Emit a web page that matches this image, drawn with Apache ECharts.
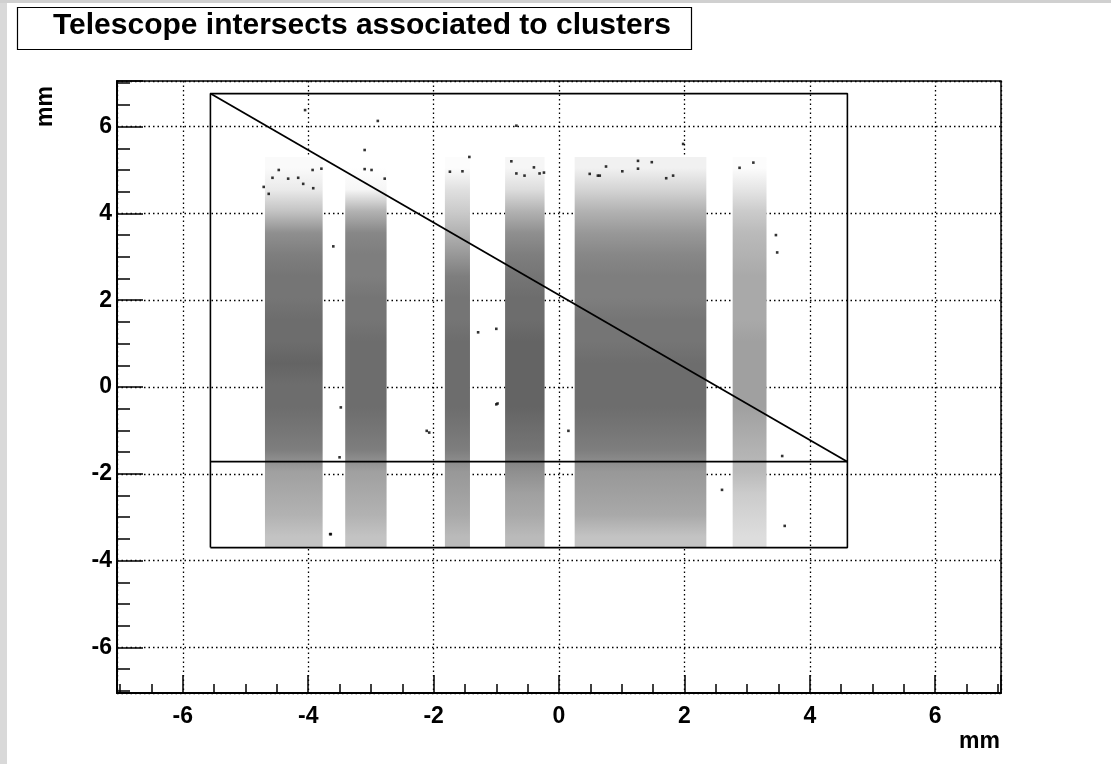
<!DOCTYPE html>
<html>
<head>
<meta charset="utf-8">
<title>Telescope intersects associated to clusters</title>
<script src="https://cdn.jsdelivr.net/npm/echarts@6/dist/echarts.min.js"></script>
<style>
  html, body { margin: 0; padding: 0; background: #fff; }
  #chart { width: 1111px; height: 764px; }
</style>
</head>
<body>
<div id="chart"></div>
<script>
// Hit density of telescope track intersects, one entry per sensor strip column.
const bandXMin = [-4.69, -3.41, -1.82, -0.86, 0.25, 2.77];
const bandXMax = [-3.77, -2.75, -1.42, -0.23, 2.35, 3.31];
const bandYMin = -3.7;
const bandYMax = 5.3;
// Relative hit density (0..1) in 0.5 mm slices, bottom to top
const sliceCenters = [-3.45, -2.95, -2.45, -1.95, -1.45, -0.95, -0.45, 0.05, 0.55,
                      1.05, 1.55, 2.05, 2.55, 3.05, 3.55, 4.05, 4.55, 5.05];
const band1Density = [0.35, 0.45, 0.50, 0.55, 0.75, 0.80, 0.85, 0.85, 0.90, 0.85, 0.85, 0.80, 0.80, 0.75, 0.65, 0.35, 0.12, 0.03];
const band2Density = [0.35, 0.45, 0.50, 0.55, 0.75, 0.80, 0.85, 0.85, 0.85, 0.85, 0.80, 0.80, 0.75, 0.75, 0.70, 0.45, 0.05, 0.00];
const band3Density = [0.40, 0.50, 0.55, 0.60, 0.75, 0.80, 0.85, 0.85, 0.85, 0.85, 0.80, 0.80, 0.75, 0.60, 0.45, 0.30, 0.18, 0.02];
const band4Density = [0.40, 0.50, 0.55, 0.65, 0.80, 0.85, 0.90, 0.90, 0.90, 0.90, 0.85, 0.85, 0.80, 0.75, 0.65, 0.45, 0.20, 0.05];
const band5Density = [0.35, 0.50, 0.55, 0.60, 0.75, 0.80, 0.85, 0.85, 0.85, 0.80, 0.80, 0.75, 0.75, 0.70, 0.60, 0.45, 0.25, 0.08];
const band6Density = [0.20, 0.25, 0.30, 0.40, 0.45, 0.50, 0.55, 0.55, 0.55, 0.55, 0.50, 0.50, 0.50, 0.45, 0.40, 0.30, 0.15, 0.02];
const bandDensities = [band1Density, band2Density, band3Density, band4Density, band5Density, band6Density];

// Isolated intersects away from the dense columns (mm)
const strayPoints = [
  [-4.05, 6.38], [-2.89, 6.13], [-3.10, 5.46], [-4.47, 5.00], [-4.57, 4.82], [-4.32, 4.80],
  [-4.16, 4.82], [-3.93, 5.00], [-3.79, 5.03], [-4.71, 4.61], [-3.10, 5.02], [-2.99, 5.00],
  [-2.78, 4.80], [-4.08, 4.68], [-3.92, 4.58], [-4.63, 4.45],
  [-1.43, 5.30], [-1.74, 4.96], [-1.54, 4.97], [-0.76, 5.20], [-0.68, 4.92], [-0.40, 5.06],
  [-0.31, 4.92], [-0.24, 4.94], [-0.55, 4.87], [-0.68, 6.02], [0.49, 4.91], [0.62, 4.87],
  [1.26, 5.21], [1.48, 5.18], [1.26, 5.03], [0.75, 5.08], [1.01, 4.97], [0.65, 4.87],
  [1.98, 5.60], [2.88, 5.05], [3.10, 5.17], [3.46, 3.50], [3.48, 3.10], [1.71, 4.81], [1.82, 4.87],
  [3.56, -1.59], [3.60, -3.20], [2.60, -2.37], [0.15, -1.01],
  [-2.11, -1.01], [-2.07, -1.05], [-1.00, -0.40], [-3.64, -3.39], [-3.50, -1.62],
  [-1.00, 1.34], [-1.29, 1.26], [-0.98, -0.38], [-3.60, 3.24], [-3.48, -0.47], [-3.65, -3.39]
];

// Fiducial region and cut lines (mm)
const fiducialBox = [[-5.56, -3.70], [-5.56, 6.76], [4.60, 6.76], [4.60, -3.70], [-5.56, -3.70]];
const diagonalCut = [[-5.56, 6.76], [4.60, -1.72]];
const horizontalCut = [[-5.56, -1.72], [4.60, -1.72]];

const axisRange = 7.05;
const axisTicks = [-6, -4, -2, 0, 2, 4, 6];

const FONT = 'Liberation Sans, Arial, Helvetica, sans-serif';

function greyFor(d) {
  const g = Math.round(255 - 172 * d);
  return 'rgb(' + g + ',' + g + ',' + g + ')';
}

function renderBand(params, api) {
  const idx = api.value(0);
  const topLeft = api.coord([api.value(1), api.value(4)]);
  const botRight = api.coord([api.value(2), api.value(3)]);
  const profile = bandDensities[idx];
  const span = bandYMax - bandYMin;
  const stops = [{ offset: 0, color: greyFor(profile[profile.length - 1]) }];
  for (let i = profile.length - 1; i >= 0; i--) {
    stops.push({ offset: (bandYMax - sliceCenters[i]) / span, color: greyFor(profile[i]) });
  }
  stops.push({ offset: 1, color: greyFor(profile[0]) });
  return {
    type: 'rect',
    shape: {
      x: topLeft[0], y: topLeft[1],
      width: botRight[0] - topLeft[0], height: botRight[1] - topLeft[1]
    },
    style: { fill: new echarts.graphic.LinearGradient(0, 0, 0, 1, stops) }
  };
}

const bandData = bandXMin.map((x0, i) => [i, x0, bandXMax[i], bandYMin, bandYMax]);

function makeAxis(tickLen, isX) {
  return {
    type: 'value',
    min: -axisRange,
    max: axisRange,
    splitNumber: 7,
    minInterval: 2,
    maxInterval: 2,
    axisLine: { show: true, onZero: false, lineStyle: { color: '#000', width: 2 } },
    axisTick: { show: true, inside: true, length: tickLen, lineStyle: { color: '#000', width: 1.5 } },
    minorTick: { show: true, splitNumber: 4, length: tickLen / 2, lineStyle: { color: '#000', width: 1.5 } },
    splitLine: { show: true, lineStyle: { color: '#000', width: 1.3, type: [1.5, 3] } },
    axisLabel: {
      show: true,
      showMinLabel: false,
      showMaxLabel: false,
      color: '#000',
      fontSize: 23,
      fontWeight: 'bold',
      fontFamily: FONT,
      margin: isX ? 12 : 5,
      formatter: v => (axisTicks.indexOf(v) >= 0 ? String(v) : '')
    }
  };
}

const chart = echarts.init(document.getElementById('chart'), null, { renderer: 'canvas' });
chart.setOption({
  backgroundColor: '#ffffff',
  animation: false,
  title: {
    text: 'Telescope intersects associated to clusters',
    left: 53,
    top: 11,
    padding: 0,
    textStyle: { fontSize: 30, fontWeight: 'bold', color: '#000', fontFamily: FONT }
  },
  grid: {
    left: 117, right: 110, top: 81, bottom: 71,
    containLabel: false,
    show: true,
    borderColor: '#000',
    borderWidth: 1.5,
    backgroundColor: 'transparent'
  },
  xAxis: makeAxis(18, true),
  yAxis: makeAxis(26, false),
  graphic: [
    { type: 'rect', z: 100, shape: { x: 0, y: 0, width: 7, height: 764 }, style: { fill: '#d9d9d9' } },
    { type: 'rect', z: 100, shape: { x: 0, y: 0, width: 1111, height: 3 }, style: { fill: '#d0d0d0' } },
    { type: 'rect', z: -1, shape: { x: 17.5, y: 7.5, width: 674, height: 42 },
      style: { fill: '#fff', stroke: '#000', lineWidth: 1.2 } },
    { type: 'text', z: 100, x: 1000, y: 742,
      style: { text: 'mm', fill: '#000', font: 'bold 23px ' + FONT, textAlign: 'right', textVerticalAlign: 'middle' } },
    { type: 'text', z: 100, x: 46, y: 86, rotation: Math.PI / 2,
      style: { text: 'mm', fill: '#000', font: 'bold 23px ' + FONT, textAlign: 'right', textVerticalAlign: 'middle' } }
  ],
  series: [
    {
      type: 'custom',
      name: 'strip columns',
      renderItem: renderBand,
      encode: { x: [1, 2], y: [3, 4] },
      data: bandData,
      silent: true,
      clip: true,
      z: 1
    },
    {
      type: 'scatter',
      name: 'stray intersects',
      data: strayPoints,
      symbol: 'rect',
      symbolSize: 2.6,
      itemStyle: { color: '#000' },
      silent: true,
      z: 2
    },
    {
      type: 'line', data: fiducialBox, showSymbol: false, silent: true, z: 3,
      lineStyle: { color: '#000', width: 1.6 }
    },
    {
      type: 'line', data: diagonalCut, showSymbol: false, silent: true, z: 3,
      lineStyle: { color: '#000', width: 1.8 }
    },
    {
      type: 'line', data: horizontalCut, showSymbol: false, silent: true, z: 3,
      lineStyle: { color: '#000', width: 1.8 }
    }
  ]
});
</script>
</body>
</html>
